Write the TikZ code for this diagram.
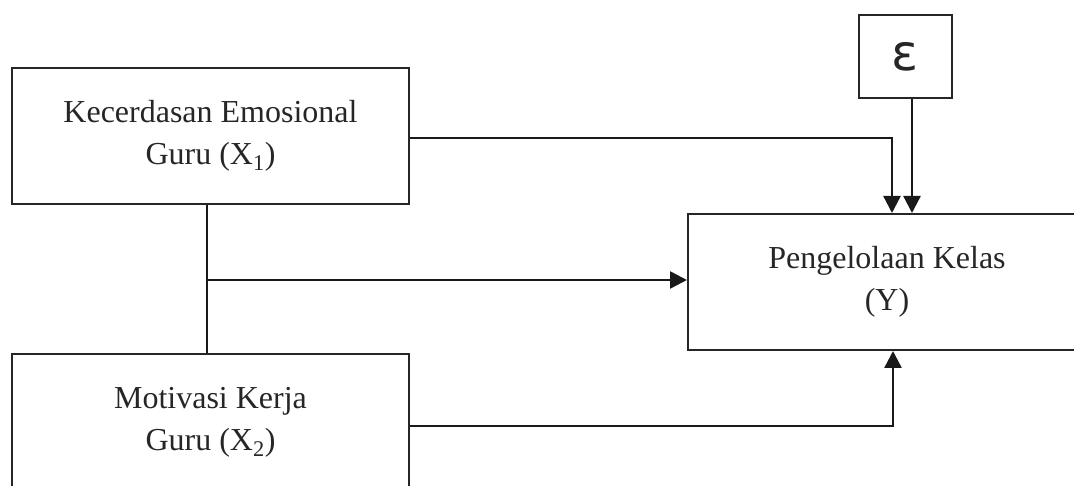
\documentclass[tikz,border=0pt]{standalone}
\usepackage{fontspec}
\setmainfont{Liberation Serif}
\newfontfamily\epsfont{DejaVu Sans}
\usetikzlibrary{arrows.meta}
\begin{document}
\begin{tikzpicture}[x=1pt,y=1pt,
  box/.style={draw=black!85,line width=2pt,inner sep=0pt,align=center,
    font=\fontsize{32}{42}\selectfont,text=black!85},
  conn/.style={draw=black!90,line width=2.4pt},
  arr/.style={conn,-{Triangle[length=17pt,width=17pt]}}]
\useasboundingbox (0,0) rectangle (1074,486);
\clip (0,0) rectangle (1074,486);
\node[box,minimum width=397pt,minimum height=136pt] (x1) at (210.5,350)
  {Kecerdasan Emosional\\Guru (X\textsubscript{1})};
\node[box,minimum width=397pt,minimum height=136pt] (x2) at (210.5,64)
  {Motivasi Kerja\\Guru (X\textsubscript{2})};
\node[box,minimum width=398pt,minimum height=136pt] (y) at (887,204)
  {Pengelolaan Kelas\\(Y)};
\node[box,minimum width=93pt,minimum height=83pt,font=\epsfont\fontsize{50}{50}\selectfont] (e) at (905.5,429.5) {ε};
\coordinate (j) at (207,206);
\draw[conn] (x1.south -| j) -- (x2.north -| j);
\draw[arr] (j) -- (y.west |- j);
\draw[arr] (x1.east |- 0,348) -| (y.north -| 892,0);
\draw[arr] (e.south -| 912,0) -- (y.north -| 912,0);
\draw[arr] (x2.east |- 0,60) -| (y.south -| 893,0);
\end{tikzpicture}
\end{document}
